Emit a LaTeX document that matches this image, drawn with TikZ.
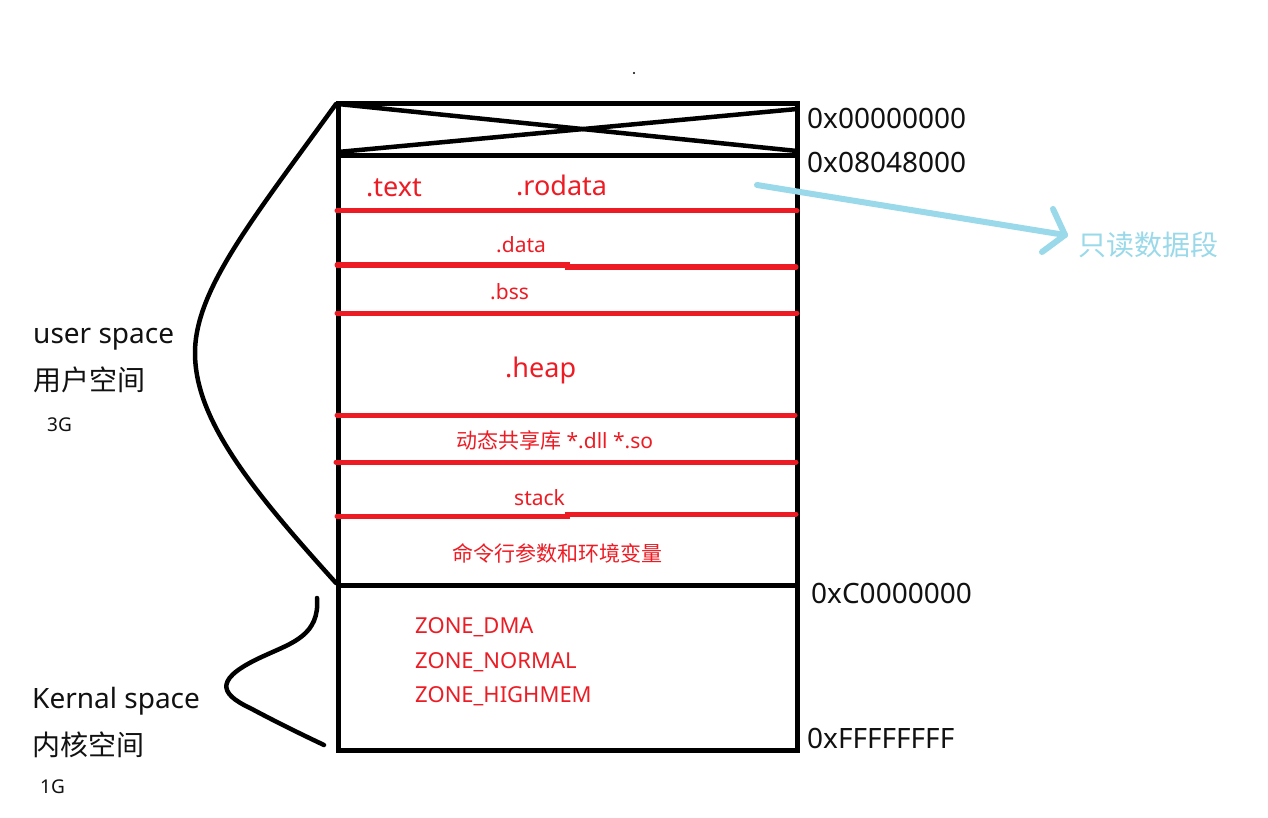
\documentclass[tikz,border=0pt]{standalone}
\usepackage{fontspec}
\usetikzlibrary{calc}
\setmainfont{Noto Sans}
\newfontfamily\cjk{Noto Sans CJK SC}
\definecolor{pred}{HTML}{ED1C24}
\definecolor{pblue}{HTML}{99D9EA}
\definecolor{ink}{HTML}{111111}
\begin{document}
\begin{tikzpicture}[x=1pt,y=-1pt,
  lbl/.style={anchor=base west, inner sep=0pt, text=ink},
  redlbl/.style={anchor=base west, inner sep=0pt, text=pred},
  boxline/.style={line width=5pt, draw=black},
  redline/.style={line width=5pt, draw=pred, line cap=round},
  brace/.style={line width=4.5pt, draw=black, line cap=round},
  arrowline/.style={line width=6pt, draw=pblue, line cap=round, line join=round}]
\useasboundingbox (0,0) rectangle (1268,818);
\fill[white] (0,0) rectangle (1268,818);

% main box
\draw[boxline] (338,104) rectangle (797,750);
\draw[boxline] (338,156) -- (797,156);
\draw[boxline] (338,585) -- (797,585);
% cross in reserved area
\draw[line width=4.5pt] (338,104) -- (797,151);
\draw[line width=4.5pt] (338,152) -- (797,109);

% red section lines
\draw[redline] (337,211) -- (797,211);
\draw[redline] (337,265) -- (567,265) -- (567,267) -- (796,267);
\draw[redline] (337,313) -- (797,313);
\draw[redline] (337,415) -- (795,415);
\draw[redline] (336,462) -- (796,462);
\draw[redline] (337,516) -- (567,516) -- (567,514) -- (796,514);

% user space brace
\draw[brace] (336,104) .. controls (252,220) and (195,290) .. (195,353)
  .. controls (195,420) and (252,490) .. (336,583);
% kernel space brace
\draw[brace] (317,598) .. controls (320,635) and (292,643) .. (266,655)
  .. controls (214,678) and (218,693) .. (250,708)
  .. controls (280,724) and (305,736) .. (324,745);

% stray dot
\fill[black] (634,73) circle (1.2pt);

% addresses
\node[lbl, font=\fontsize{28}{32}\selectfont] (a0) at (807,129) {0x00000000};
\node[lbl, font=\fontsize{28}{32}\selectfont] (a1) at (807,173) {0x08048000};
\node[lbl, font=\fontsize{28}{32}\selectfont] (a2) at (811,603) {0xC0000000};
\node[lbl, font=\fontsize{28}{32}\selectfont] (a3) at (807,748) {0xFFFFFFFF};

% segment labels
\node[redlbl, font=\fontsize{27}{30}\selectfont] (text) at (366,197) {.text};
\node[redlbl, font=\fontsize{27}{30}\selectfont] (rodata) at (516,196) {.rodata};
\node[redlbl, font=\fontsize{21}{24}\selectfont] (data) at (496,252) {.data};
\node[redlbl, font=\fontsize{21}{24}\selectfont] (bss) at (490,299) {.bss};
\node[redlbl, font=\fontsize{27}{30}\selectfont] (heap) at (505,377) {.heap};
\node[redlbl, font=\fontsize{21}{24}\selectfont] (dll) at (456,448) {{\cjk 动态共享库} *.dll *.so};
\node[redlbl, font=\fontsize{21}{24}\selectfont] (stack) at (514,505) {stack};
\node[redlbl, font=\fontsize{21}{24}\selectfont\cjk] (env) at (452,561) {命令行参数和环境变量};
\node[redlbl, font=\fontsize{22}{24}\selectfont] (z1) at (415,633) {ZONE\_DMA};
\node[redlbl, font=\fontsize{22}{24}\selectfont] (z2) at (415,668) {ZONE\_NORMAL};
\node[redlbl, font=\fontsize{22}{24}\selectfont] (z3) at (415,702) {ZONE\_HIGHMEM};

% left labels
\node[lbl, font=\fontsize{28}{32}\selectfont] (us) at (33,343) {user space};
\node[lbl, font=\fontsize{28}{32}\selectfont\cjk] (uscn) at (33,390) {用户空间};
\node[lbl, font=\fontsize{19}{22}\selectfont] (us3) at (47,431) {3G};
\node[lbl, font=\fontsize{28}{32}\selectfont] (ks) at (32,708) {Kernal space};
\node[lbl, font=\fontsize{28}{32}\selectfont\cjk] (kscn) at (32,755) {内核空间};
\node[lbl, font=\fontsize{19}{22}\selectfont] (ks1) at (40,793) {1G};

% read-only annotation
\node[anchor=base west, inner sep=0pt, text=pblue, font=\fontsize{28}{32}\selectfont\cjk] (ro) at (1078,255) {只读数据段};
\coordinate (arrS) at (757,185);
\coordinate (arrE) at (1065,235);
\draw[arrowline] (arrS) -- (arrE);
\draw[arrowline] ($(arrE)+(-12,-26)$) -- (arrE) -- ($(arrE)+(-23,17)$);
\end{tikzpicture}
\end{document}
